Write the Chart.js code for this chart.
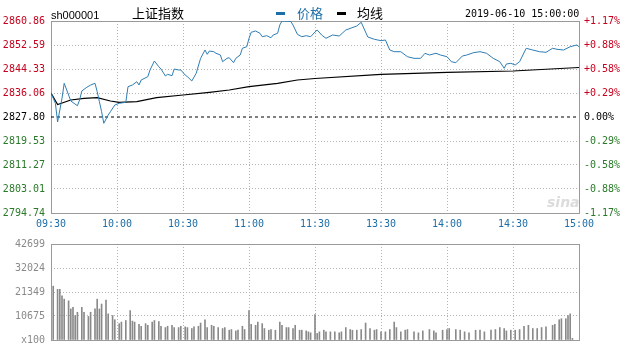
<!DOCTYPE html>
<html>
<head>
<meta charset="utf-8">
<script src="https://cdn.jsdelivr.net/npm/chart.js@4.4.1/dist/chart.umd.min.js"></script>
<style>
    body { margin: 0; background: #fff; width: 626px; height: 344px; overflow: hidden; position: relative; }
    #wrapPrice { position: absolute; left: 0; top: 0; width: 626px; height: 236px; }
    #wrapVol { position: absolute; left: 0; top: 232px; width: 626px; height: 120px; }
    .hdr { position: absolute; white-space: nowrap; line-height: 1; }
    .dash { position: absolute; height: 3px; width: 9px; }
</style>
</head>
<body>
<div id="wrapPrice"><canvas id="priceChart" width="626" height="236"></canvas></div>
<div id="wrapVol"><canvas id="volChart" width="626" height="120"></canvas></div>

<div class="hdr" style="left:51px;top:9px;font:11px 'Liberation Sans',Arial,sans-serif;">sh000001</div>
<div class="hdr" style="left:132px;top:3px;font:13px 'Noto Sans CJK SC',sans-serif;">上证指数</div>
<div class="dash" style="left:276px;top:12px;background:#1d6fa8;"></div>
<div class="hdr" style="left:297px;top:3px;font:13px 'Noto Sans CJK SC',sans-serif;color:#1d6fa8;">价格</div>
<div class="dash" style="left:337px;top:12px;background:#000;"></div>
<div class="hdr" style="left:357px;top:3px;font:13px 'Noto Sans CJK SC',sans-serif;">均线</div>
<div class="hdr" style="left:465px;top:8px;font:10px 'DejaVu Sans Mono',monospace;">2019-06-10 15:00:00</div>
<div class="hdr" style="left:547px;top:194px;font:italic bold 14px 'DejaVu Sans',sans-serif;color:#dcdcdc;">sina</div>

<script>
// --- data ---
const prevClose = 2827.80;

const timeTicks = [0, 30, 60, 90, 120, 150, 180, 210, 240];
const timeLabels = ["09:30", "10:00", "10:30", "11:00", "11:30", "13:30", "14:00", "14:30", "15:00"];

const priceTicks = [2794.74, 2803.01, 2811.27, 2819.53, 2827.80, 2836.06, 2844.33, 2852.59, 2860.86];
const priceLabels = ["2794.74", "2803.01", "2811.27", "2819.53", "2827.80", "2836.06", "2844.33", "2852.59", "2860.86"];
const pctLabels = ["-1.17%", "-0.88%", "-0.58%", "-0.29%", "0.00%", "+0.29%", "+0.58%", "+0.88%", "+1.17%"];

// minute index from 09:30 (lunch break removed)
const priceMin = [0, 2, 3, 5, 6, 8, 9, 12, 13, 14, 16, 18, 20, 21, 22, 23, 24, 26, 27, 29, 31, 34, 35, 37, 39, 40,
    41, 44, 45, 47, 49, 50, 52, 53, 55, 56, 58, 59, 61, 62, 64, 66, 68, 70, 71, 72, 74, 75, 77, 78, 80, 81, 83, 84,
    86, 87, 89, 90, 91, 93, 95, 96, 98, 100, 101, 103, 104, 105, 107, 109, 110, 112, 114, 116, 118, 120,
    121, 123, 125, 128, 131, 134, 139, 141, 144, 147, 150, 152, 154, 156, 159, 162, 165, 168, 170, 172, 175, 177,
    180, 182, 184, 187, 189, 192, 195, 198, 201, 204, 206, 207, 209, 211, 213, 216, 219, 222, 225, 228, 230, 233,
    236, 239, 240];
const priceVal = [2836.07, 2832.52, 2826.08, 2834.24, 2839.41, 2835.38, 2833.31, 2831.69, 2833.65, 2836.75, 2837.89,
    2838.82, 2839.41, 2836.51, 2833.07, 2829.62, 2825.63, 2828.49, 2829.62, 2831.93, 2832.52, 2832.86, 2838.23,
    2838.82, 2839.96, 2838.82, 2840.54, 2841.68, 2843.99, 2847.08, 2845.12, 2844.33, 2841.92, 2842.50, 2842.02,
    2844.33, 2843.99, 2843.99, 2842.26, 2841.68, 2840.20, 2842.85, 2848.01, 2850.87, 2849.39, 2850.53, 2850.29,
    2849.74, 2849.15, 2846.84, 2848.01, 2848.22, 2846.50, 2848.01, 2849.15, 2851.46, 2852.01, 2854.90, 2856.97,
    2857.42, 2856.62, 2855.45, 2855.80, 2855.11, 2856.04, 2856.62, 2859.48, 2860.86, 2860.80, 2860.69, 2859.48,
    2856.28, 2855.45, 2855.80, 2855.45, 2857.07,
    2857.76, 2856.04, 2854.90, 2856.04, 2855.69, 2857.76, 2859.14, 2860.41, 2855.35, 2854.56, 2854.08, 2854.32,
    2850.87, 2850.29, 2850.29, 2848.57, 2848.01, 2848.01, 2849.74, 2849.15, 2849.74, 2849.15, 2848.57, 2846.84,
    2846.50, 2848.81, 2849.15, 2849.94, 2850.29, 2849.74, 2848.01, 2846.84, 2844.57, 2846.05, 2846.29, 2845.71,
    2846.84, 2851.46, 2850.87, 2850.29, 2850.08, 2851.46, 2851.11, 2850.87, 2852.01, 2852.59, 2852.01];

const avgMin = [0, 3, 9, 15, 21, 27, 31, 39, 48, 60, 72, 81, 90, 103, 112, 120, 150, 180, 210, 240];
const avgVal = [2836.07, 2832.10, 2833.65, 2834.24, 2834.45, 2833.31, 2832.86, 2833.07, 2834.45, 2835.38, 2836.31,
    2837.10, 2838.23, 2839.41, 2840.54, 2841.06, 2842.50, 2843.19, 2843.64, 2844.85];

const volTicks = [0, 10675, 21349, 32024, 42699];
const volLabels = ["x100", "10675", "21349", "32024", "42699"];

const volMin = [1, 3, 4, 5, 6, 8, 9, 10, 11, 12, 14, 15, 17, 18, 20, 21, 22, 23, 25, 26, 28, 29, 31, 32, 34, 36, 37,
    38, 40, 41, 43, 44, 46, 47, 49, 50, 52, 53, 55, 56, 58, 59, 61, 62, 64, 65, 67, 68, 70, 71, 73, 74, 76, 78, 79,
    81, 82, 84, 85, 87, 88, 90, 91, 93, 94, 96, 97, 99, 100, 102, 104, 105, 107, 108, 110, 111, 113, 114, 116, 117,
    118, 120,
    121, 122, 124, 125, 127, 129, 131, 132, 134, 136, 137, 139, 141, 143, 145, 147, 148, 150, 152, 154, 156, 157,
    159, 161, 162, 165, 167, 169, 172, 174, 175, 178, 180, 181, 184, 186, 188, 190, 193, 195, 197, 200, 202, 204,
    206, 207, 209, 211, 213, 215, 217, 219, 221, 223, 225, 228, 229, 231, 232, 234, 235, 236, 237];
const volVal = [23960, 22530, 22530, 19610, 18170, 17430, 13810, 14510, 10890, 12330, 14510, 12330, 10460, 12330,
    13810, 18170, 13810, 15990, 17730, 11630, 10890, 9020, 7280, 7970, 8670, 13070, 8410, 7970, 6970, 6100, 7280,
    6540, 7970, 8670, 8240, 6100, 5530, 6100, 6540, 5530, 5530, 6100, 5840, 5530, 5100, 5840, 6100, 7540, 9020,
    5530, 6540, 6100, 5530, 5100, 5530, 4360, 4650, 4050, 4360, 6100, 4650, 13070, 6970, 6540, 7970, 7280, 5100,
    4360, 4650, 4360, 7970, 6540, 5530, 5530, 5100, 6540, 4360, 4360, 4050, 3630, 3200, 11330,
    2910, 3630, 4360, 3630, 3630, 3630, 3200, 3630, 5530, 4650, 4360, 4360, 4650, 7540, 5100, 4360, 4650, 3630,
    3630, 4650, 7970, 5530, 3630, 4360, 4650, 3630, 3200, 4050, 4650, 4050, 3200, 4360, 4650, 5100, 4650, 4360,
    3630, 3200, 4360, 4360, 3630, 4360, 4650, 5530, 5100, 4050, 4360, 4360, 4650, 6100, 6540, 5100, 5100, 5530,
    5840, 6540, 6970, 9020, 9460, 9460, 10890, 11630, 740];

// --- styling ---
const monoFont = { family: "'DejaVu Sans Mono', monospace", size: 10 };
const gridGray = "#b4b4b4";

function tickColor(v) {
    if (Math.abs(v - prevClose) < 0.01) return "#000";
    return v > prevClose ? "#c8001e" : "#2a7a2a";
}

// full grey frame round each plot area
const boxBorder = {
    id: "boxBorder",
    beforeDatasetsDraw(chart) {
        const { ctx, chartArea: a } = chart;
        ctx.save();
        ctx.strokeStyle = "#9a9a9a";
        ctx.lineWidth = 1;
        ctx.strokeRect(Math.round(a.left) + 0.5, Math.round(a.top) + 0.5,
            Math.round(a.right - a.left), Math.round(a.bottom - a.top));
        ctx.restore();
    },
};

const priceCtx = document.getElementById("priceChart").getContext("2d");
new Chart(priceCtx, {
    type: "line",
    data: {
        datasets: [
            {
                label: "价格",
                data: priceMin.map((m, i) => ({ x: m, y: priceVal[i] })),
                borderColor: "#2f7db2",
                borderWidth: 1,
                pointRadius: 0,
                tension: 0,
                yAxisID: "y",
            },
            {
                label: "均线",
                data: avgMin.map((m, i) => ({ x: m, y: avgVal[i] })),
                borderColor: "#000",
                borderWidth: 1.2,
                pointRadius: 0,
                tension: 0,
                yAxisID: "y",
            },
            {
                label: "prevClose",
                data: [{ x: 0, y: prevClose }, { x: 240, y: prevClose }],
                borderColor: "#000",
                borderWidth: 1,
                borderDash: [3, 3],
                pointRadius: 0,
                yAxisID: "y",
            },
        ],
    },
    options: {
        responsive: false,
        animation: false,
        layout: { padding: { top: 21, left: 0, right: 0, bottom: 0 } },
        plugins: { legend: { display: false }, tooltip: { enabled: false } },
        scales: {
            x: {
                type: "linear",
                min: 0,
                max: 240,
                afterBuildTicks: (s) => { s.ticks = timeTicks.map((v) => ({ value: v })); },
                afterFit: (s) => { s.height = 23; },
                ticks: {
                    font: monoFont,
                    color: "#1d6fa5",
                    padding: 5,
                    maxRotation: 0,
                    callback: (v) => timeLabels[timeTicks.indexOf(v)],
                },
                grid: { color: gridGray, drawTicks: false },
                border: { display: false, dash: [1, 2] },
            },
            y: {
                position: "left",
                min: priceTicks[0],
                max: priceTicks[priceTicks.length - 1],
                afterBuildTicks: (s) => { s.ticks = priceTicks.map((v) => ({ value: v })); },
                afterFit: (s) => { s.width = 51; },
                ticks: {
                    font: monoFont,
                    padding: 6,
                    color: (c) => tickColor(priceTicks[c.index]),
                    callback: (v, i) => priceLabels[i],
                },
                grid: {
                    color: (c) => (c.tick && Math.abs(c.tick.value - prevClose) < 0.01 ? "rgba(0,0,0,0)" : gridGray),
                    drawTicks: false,
                },
                border: { display: false, dash: [1, 2] },
            },
            y2: {
                position: "right",
                min: priceTicks[0],
                max: priceTicks[priceTicks.length - 1],
                afterBuildTicks: (s) => { s.ticks = priceTicks.map((v) => ({ value: v })); },
                afterFit: (s) => { s.width = 47; },
                ticks: {
                    font: monoFont,
                    padding: 5,
                    color: (c) => tickColor(priceTicks[c.index]),
                    callback: (v, i) => pctLabels[i],
                },
                grid: { drawOnChartArea: false, drawTicks: false },
                border: { display: false },
            },
        },
    },
    plugins: [boxBorder],
});

const volCtx = document.getElementById("volChart").getContext("2d");
new Chart(volCtx, {
    type: "bar",
    data: {
        datasets: [
            {
                label: "成交量",
                data: volMin.map((m, i) => ({ x: m, y: volVal[i] })),
                backgroundColor: "#8a8a8a",
                barThickness: 1,
            },
        ],
    },
    options: {
        responsive: false,
        animation: false,
        layout: { padding: { top: 10, left: 0, right: 47, bottom: 0 } },
        plugins: { legend: { display: false }, tooltip: { enabled: false } },
        scales: {
            x: {
                type: "linear",
                min: 0,
                max: 240,
                offset: false,
                afterBuildTicks: (s) => { s.ticks = timeTicks.map((v) => ({ value: v })); },
                afterFit: (s) => { s.height = 12; },
                ticks: { display: false },
                grid: { color: gridGray, drawTicks: false, offset: false },
                border: { display: false, dash: [1, 2] },
            },
            y: {
                min: 0,
                max: volTicks[volTicks.length - 1],
                afterBuildTicks: (s) => { s.ticks = volTicks.map((v) => ({ value: v })); },
                afterFit: (s) => { s.width = 51; },
                ticks: {
                    font: monoFont,
                    color: "#8a8a8a",
                    padding: 6,
                    callback: (v, i) => volLabels[i],
                },
                grid: { color: gridGray, drawTicks: false },
                border: { display: false, dash: [1, 2] },
            },
        },
    },
    plugins: [boxBorder],
});
</script>
</body>
</html>
